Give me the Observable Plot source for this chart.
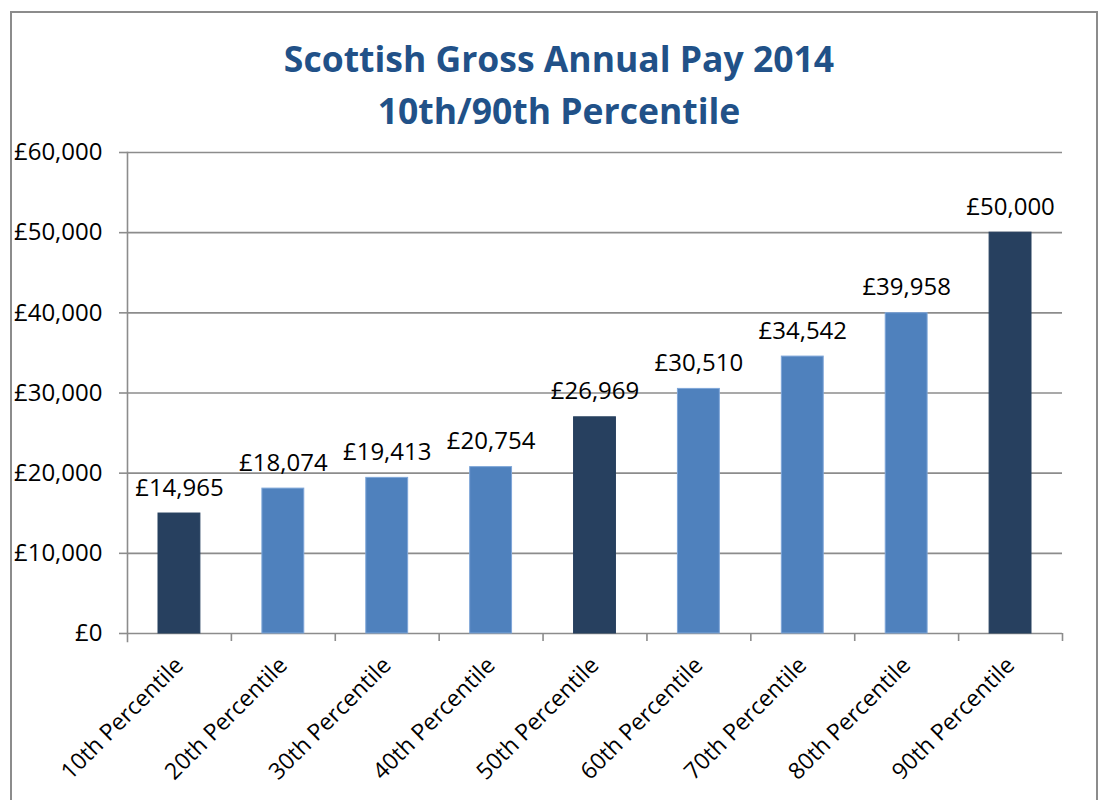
<!DOCTYPE html>
<html>
<head>
<meta charset="utf-8">
<script src="https://cdn.jsdelivr.net/npm/d3@7"></script>
<script src="https://cdn.jsdelivr.net/npm/@observablehq/plot@0.6"></script>
<style>
  html, body { margin: 0; padding: 0; background: #fff; width: 1099px; height: 800px; overflow: hidden; }
  #frame { position: absolute; left: 10px; top: 11px; width: 1088px; height: 820px; border: 2px solid #8c8c8c; box-sizing: border-box; }
  .title { position: absolute; left: 0; width: 1118px; text-align: center; font-family: "Open Sans", sans-serif; font-weight: 700; font-size: 35.5px; color: #215188; line-height: 1; white-space: nowrap; }
  #chart { position: absolute; left: 0; top: 130px; }
  #chart svg { background: transparent; }
</style>
</head>
<body>
<div id="frame"></div>
<div class="title" style="top:41px">Scottish Gross Annual Pay 2014</div>
<div class="title" style="top:93px">10th/90th Percentile</div>
<div id="chart"></div>
<script>
const categories = ["10th Percentile", "20th Percentile", "30th Percentile", "40th Percentile", "50th Percentile", "60th Percentile", "70th Percentile", "80th Percentile", "90th Percentile"];
const pay = [14965, 18074, 19413, 20754, 26969, 30510, 34542, 39958, 50000];
const emphasised = ["10th Percentile", "50th Percentile", "90th Percentile"];
const yTicks = [0, 10000, 20000, 30000, 40000, 50000, 60000];

const data = categories.map((c, i) => ({category: c, value: pay[i], key: emphasised.includes(c)}));

const W = 1099, H = 670, ML = 127, MR = 37, MT = 22, MB = 167;
const band = (W - ML - MR) / categories.length;
const DARK = "#27405f", LIGHT = "#4f81bd", GRID = "#8c8c8c";
const font = "Open Sans, sans-serif";
const FS = 24;
const fmt = d => "£" + d3.format(",")(d);

const chart = Plot.plot({
  width: W, height: H,
  marginLeft: ML, marginRight: MR, marginTop: MT, marginBottom: MB,
  style: {fontFamily: font, fontSize: FS + "px", color: "#000", background: "transparent"},
  x: {domain: categories, padding: 0, round: false, label: null},
  y: {domain: [0, 60000], label: null},
  marks: [
    Plot.gridY(yTicks, {stroke: GRID, strokeOpacity: 1, strokeWidth: 1.6}),
    Plot.frame({anchor: "left", stroke: GRID, strokeWidth: 1.6, insetBottom: -8}),
    Plot.ruleX(categories, {x: d => d, dx: band / 2, y1: 0, y2: 0, insetBottom: -8, stroke: GRID, strokeWidth: 1.6}),
    Plot.axisY(yTicks, {tickSize: 8, tickPadding: 17, tickFormat: fmt, stroke: GRID, strokeWidth: 1.6, fill: "#000", fontSize: FS}),
    Plot.axisX({tickSize: 0, tickRotate: -45, tickPadding: 28, fill: "#000", fontSize: 23}),
    Plot.barY(data, {x: "category", y: "value", fill: d => d.key ? DARK : LIGHT, stroke: d => d.key ? DARK : "#7ea6d8", strokeWidth: 1, insetLeft: 31, insetRight: 31}),
    Plot.text(data, {x: "category", y: "value", text: d => fmt(d.value), dy: -18, lineAnchor: "bottom", fill: "#000", fontSize: FS})
  ]
});
document.getElementById("chart").appendChild(chart);
</script>
</body>
</html>
